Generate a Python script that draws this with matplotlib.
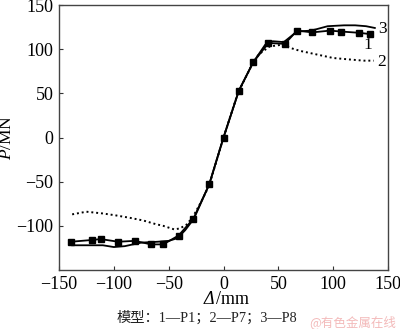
import matplotlib
matplotlib.use("Agg")
import matplotlib.pyplot as plt
import numpy as np

# Model 1 (P1): measured points with square markers
x1 = [-139, -120, -112, -96, -81, -66, -55, -41, -27.5, -13, 0, 14, 27, 41, 56, 67, 81, 97, 107, 124, 134]
y1 = [-118, -116, -115, -118, -117, -121, -121, -111, -92, -53, 0, 53, 85, 107, 106, 121, 119, 121, 120, 118.5, 117]

# Model 2 (P7): dotted curve
x2 = [-138, -125, -110, -99, -85, -73, -62, -55, -45, -40, -34, -28, -20, -13, 0, 13, 25, 32, 42, 53, 62, 70, 85, 100, 118, 128, 137]
y2 = [-87, -84, -86, -88, -91, -94, -98, -100, -104, -103, -99, -90, -72, -54, 0, 50, 80, 94, 103, 105, 101, 98, 94, 90, 88, 87, 87]

# Model 3 (P8): solid curve
x3 = [-138, -125, -110, -100, -90, -75, -60, -50, -42, -35, -27, -13, 0, 14, 27, 38, 45, 55, 62, 67, 80, 95, 110, 120, 130, 138]
y3 = [-122, -122, -122, -124, -123, -119, -118, -117, -114, -105, -92, -53, 0, 53, 85, 105, 109, 108, 115, 120, 121, 126, 127, 127, 126, 124]

xticks = [-150, -100, -50, 0, 50, 100, 150]
yticks = [-100, -50, 0, 50, 100, 150]

serif = ["Liberation Serif", "Noto Sans CJK SC", "DejaVu Sans"]
plt.rcParams["font.family"] = serif
plt.rcParams["mathtext.fontset"] = "custom"
plt.rcParams["mathtext.it"] = "Liberation Serif:italic"
plt.rcParams["mathtext.rm"] = "Liberation Serif"

fig = plt.figure(figsize=(4.0, 3.29), dpi=100)
ax = fig.add_axes([0.1475, 0.1793, 0.8225, 0.8055])

ax.plot(x3, y3, color="black", lw=1.3, zorder=3)
ax.plot(x2, y2, color="black", lw=1.4, linestyle=(0, (1, 1.5)), zorder=2)
ax.plot(x1, y1, color="black", lw=1.3, marker="s", markersize=4.5, zorder=4)

ax.set_xlim(-150, 150)
ax.set_ylim(-150, 150)
ax.set_xticks(xticks)
ax.set_yticks(yticks)
ax.set_xticklabels([str(t).replace("-", "\u2212") for t in xticks])
ax.set_yticklabels([str(t).replace("-", "\u2212") for t in yticks])
ax.tick_params(direction="in", length=3, width=0.8, labelsize=13,
               top=False, right=False, pad=4, colors="#333333", labelcolor="black")
for s in ax.spines.values():
    s.set_color("#444444")
    s.set_linewidth(1.0)

ax.set_ylabel(r"$\mathit{P}$/MN", fontsize=12.5, labelpad=1)

# x-axis label: italic delta followed by the unit
fig.text(0.536, 0.089, "Δ", fontsize=13, style="italic", ha="right", va="center")
fig.text(0.539, 0.089, "/mm", fontsize=13, ha="left", va="center")

# curve labels
ax.text(141, 123, "3", fontsize=12.5, ha="left", va="center")
ax.text(132, 105, "1", fontsize=12.5, ha="center", va="center")
ax.text(140, 86, "2", fontsize=12.5, ha="left", va="center")

fig.text(0.517, 0.035, "模型：1—P1；2—P7；3—P8", fontsize=10.3,
         ha="center", va="center", family=serif, color="#222222")
fig.text(0.99, 0.022, "@有色金属在线", fontsize=9, ha="right", va="center",
         family=["Noto Sans CJK SC", "DejaVu Sans"], color="#f0a8a8", alpha=0.8)

fig.savefig("out.png", dpi=100)
